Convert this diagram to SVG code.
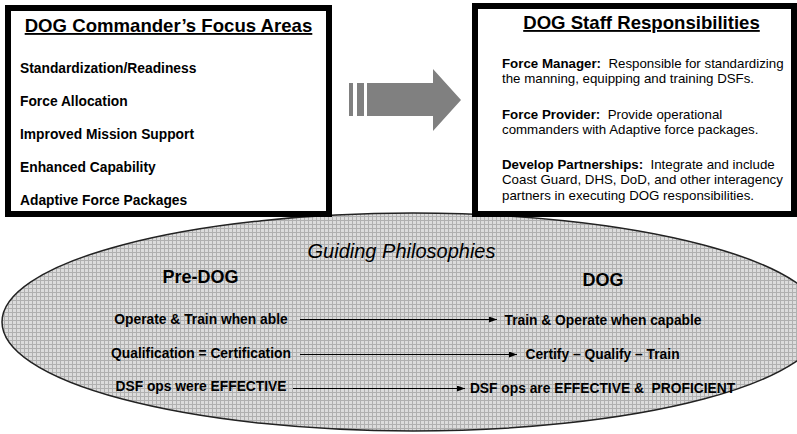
<svg xmlns="http://www.w3.org/2000/svg" width="797" height="434" viewBox="0 0 797 434">
<defs>
<style>
text{font-family:"Liberation Sans",Arial,sans-serif;fill:#000}
.t{font-size:18.6px;font-weight:bold;text-decoration:underline}
.b{font-size:13.8px;font-weight:bold}
.r{font-size:13.3px;white-space:pre}
.r .l{font-weight:bold}
.h{font-size:18px;font-weight:bold}
.box{fill:#fff;stroke:#000;stroke-width:6}
.con{stroke:#000;stroke-width:1;fill:none}
.pre{white-space:pre}
</style>
<pattern id="grid" width="4" height="4" patternUnits="userSpaceOnUse">
<rect width="4" height="4" fill="#dcdcdc"/>
<path d="M0 0.5H4M0.5 0V4" stroke="#b0b0b0" stroke-width="1"/>
</pattern>
<marker id="ah" viewBox="0 0 8 6" refX="8" refY="3" markerWidth="8" markerHeight="6" markerUnits="userSpaceOnUse" orient="auto">
<path d="M0 0L8 3L0 6z" fill="#000"/>
</marker>
</defs>
<g id="ellipse">
<ellipse cx="413" cy="322" rx="411" ry="109" fill="url(#grid)" stroke="#222" stroke-width="1.5"/>
<text x="401.5" y="258" text-anchor="middle" style="font-size:20px;font-style:italic">Guiding Philosophies</text>
<text class="h" x="200.5" y="283" text-anchor="middle">Pre-DOG</text>
<text class="h" x="603" y="286" text-anchor="middle">DOG</text>
</g>
<g id="left-box">
<rect class="box" x="8" y="8" width="321" height="206"/>
<text class="t" x="168.5" y="32" text-anchor="middle">DOG Commander’s Focus Areas</text>
<text class="b" x="20" y="72.5">Standardization/Readiness</text>
<text class="b" x="20" y="105.5">Force Allocation</text>
<text class="b" x="20" y="138.5">Improved Mission Support</text>
<text class="b" x="20" y="171.5">Enhanced Capability</text>
<text class="b" x="20" y="204.5">Adaptive Force Packages</text>
</g>
<g id="right-box">
<rect class="box" x="475" y="6" width="319" height="208"/>
<text class="t" x="641.5" y="29" text-anchor="middle">DOG Staff Responsibilities</text>
<text class="r" x="502" y="67.5" xml:space="preserve"><tspan class="l">Force Manager:</tspan>  Responsible for standardizing</text>
<text class="r" x="502" y="83">the manning, equipping and training DSFs.</text>
<text class="r" x="502" y="118.5" xml:space="preserve"><tspan class="l">Force Provider:</tspan>  Provide operational</text>
<text class="r" x="502" y="134">commanders with Adaptive force packages.</text>
<text class="r" x="502" y="168.5" xml:space="preserve"><tspan class="l">Develop Partnerships:</tspan>  Integrate and include</text>
<text class="r" x="502" y="184">Coast Guard, DHS, DoD, and other interagency</text>
<text class="r" x="502" y="200">partners in executing DOG responsibilities.</text>
</g>
<g id="big-arrow" fill="#808080">
<rect x="349" y="83" width="4" height="33"/>
<rect x="357" y="83" width="7" height="33"/>
<path d="M367 83H433V69L461 100L433 131V116H367z"/>
</g>
<g id="pre-dog-items">
<text class="b" x="201" y="324" text-anchor="middle">Operate &amp; Train when able</text>
<text class="b" x="201" y="358" text-anchor="middle">Qualification = Certification</text>
<text class="b" x="201" y="391" text-anchor="middle">DSF ops were EFFECTIVE</text>
</g>
<g id="dog-items">
<text class="b" x="603" y="325" text-anchor="middle">Train &amp; Operate when capable</text>
<text class="b" x="602.5" y="358.5" text-anchor="middle">Certify – Qualify – Train</text>
<text class="b pre" x="602.5" y="393" text-anchor="middle" xml:space="preserve">DSF ops are EFFECTIVE &amp;  PROFICIENT</text>
</g>
<g id="connectors">
<line class="con" x1="300" y1="319.5" x2="497" y2="319.5" marker-end="url(#ah)"/>
<line class="con" x1="300" y1="354.5" x2="517" y2="354.5" marker-end="url(#ah)"/>
<line class="con" x1="293" y1="388.5" x2="465" y2="388.5" marker-end="url(#ah)"/>
</g>
</svg>
